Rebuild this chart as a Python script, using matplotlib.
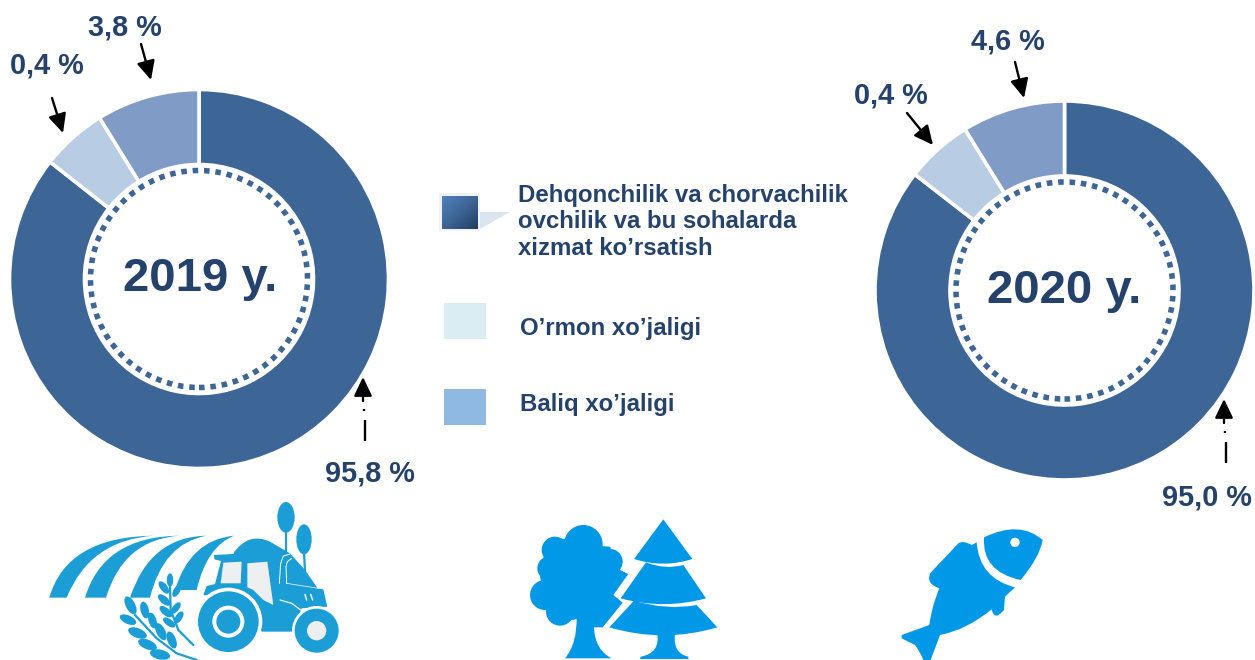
import numpy as np
import matplotlib
matplotlib.use('Agg')
import matplotlib.pyplot as plt
from matplotlib.path import Path
from matplotlib.patches import PathPatch, Polygon, Circle, Ellipse

plt.rcParams['font.family'] = ['Liberation Sans', 'DejaVu Sans']

W, H = 1255, 660

# slice sizes as drawn in the picture (not the same as the printed labels)
slices_2019 = [85.6, 5.6, 8.8]
slices_2020 = [85.5, 5.7, 8.8]
labels_2019 = ['95,8 %', '0,4 %', '3,8 %']
labels_2020 = ['95,0 %', '0,4 %', '4,6 %']
legend_names = ['Dehqonchilik va chorvachilik\novchilik va bu sohalarda\nxizmat ko\u2019rsatish',
                'O\u2019rmon xo\u2019jaligi', 'Baliq xo\u2019jaligi']

c_main = '#3d6595'
c_light = '#b8cce4'
c_mid = '#7f9bc6'
c_text = '#24426b'
c_farm = '#1b9ed6'
c_icon = '#0298e8'
c_grey = '#eeeff1'


def donut(values, cx, cy, r):
    ax = fig.add_axes([(cx-r)/W, 1-(cy+r)/H, 2*r/W, 2*r/H])
    ax.pie(values, colors=[c_main, c_light, c_mid], startangle=90, counterclock=False, radius=1,
           wedgeprops=dict(width=(r-114.5)/r, edgecolor='white', linewidth=2.6))
    ax.add_patch(Circle((0, 0), 108.5/r, fill=False, edgecolor=c_main, linewidth=4, linestyle=(0, (1, 1.05))))
    ax.set_xlim(-1, 1)
    ax.set_ylim(-1, 1)
    return ax


def arrow(a, x0, y0, x1, y1):
    a.annotate('', xy=(x1, y1), xytext=(x0, y0),
               arrowprops=dict(arrowstyle='-|>,head_width=0.55,head_length=1.15', color='black', lw=1.7,
                               shrinkA=0, shrinkB=0))


def broken_arrow(a, x, y0, y1):
    # long dash, dot, then the arrow itself
    a.plot([x+1.5, x+1.5], [y0, y0-21], color='black', lw=1.7, solid_capstyle='butt')
    a.plot([x+0.7, x+0.7], [y0-30, y0-32], color='black', lw=1.7, solid_capstyle='butt')
    arrow(a, x, y0-40, x, y1)


def shape(a, ox, oy, pts, color, z=5):
    # pts: list of (x, y) or (cx, cy, x, y) for a curved segment, in 3x zoom coordinates
    verts, codes = [], []
    for i, p in enumerate(pts):
        if len(p) == 2:
            verts.append((p[0]/3+ox, p[1]/3+oy))
            codes.append(Path.MOVETO if i == 0 else Path.LINETO)
        else:
            verts += [(p[0]/3+ox, p[1]/3+oy), (p[2]/3+ox, p[3]/3+oy)]
            codes += [Path.CURVE3, Path.CURVE3]
    verts.append(verts[0])
    codes.append(Path.CLOSEPOLY)
    a.add_patch(PathPatch(Path(verts, codes), facecolor=color, edgecolor='none', zorder=z))


def disc(a, ox, oy, x, y, r, color, z=5):
    a.add_patch(Circle((x/3+ox, y/3+oy), r/3, facecolor=color, edgecolor='none', zorder=z))


def oval(a, ox, oy, x, y, w, h, ang, color, z=5):
    a.add_patch(Ellipse((x/3+ox, y/3+oy), w/3, h/3, angle=ang, facecolor=color, edgecolor='none', zorder=z))


def thin(a, ox, oy, xs, ys, color, lw=1.0, z=8):
    a.plot(np.array(xs)/3+ox, np.array(ys)/3+oy, color=color, lw=lw, zorder=z, solid_capstyle='round')


def leaf(a, ox, oy, x0, y0, x1, y1):
    mx, my = (x0+x1)/2, (y0+y1)/2
    ln = np.hypot(x1-x0, y1-y0)
    # screen y goes down, the axes are flipped, so the angle follows the data directly
    oval(a, ox, oy, mx, my, ln, ln*0.48, np.degrees(np.arctan2(y1-y0, x1-x0)), c_farm)


def tractor(a):
    # field stripes
    ox, oy = 0, 490
    shape(a, ox, oy, [(148, 323), (200, 140, 462, 137), (270, 150, 200, 323)], c_farm)
    shape(a, ox, oy, [(255, 323), (310, 140, 537, 137), (370, 150, 318, 323)], c_farm)
    shape(a, ox, oy, [(390, 323), (450, 140, 620, 137), (490, 160, 450, 323)], c_farm)
    shape(a, ox, oy, [(525, 300), (570, 150, 702, 137), (620, 170, 590, 300)], c_farm)
    # wheat
    thin(a, ox, oy, [405, 470, 530, 590], [375, 445, 490, 510], c_farm, 1.6, 5)
    thin(a, ox, oy, [510, 512, 535, 580], [290, 360, 420, 465], c_farm, 1.6, 5)
    for x0, y0, x1, y1 in [(378, 320, 405, 372), (428, 335, 440, 385), (360, 378, 408, 400), (450, 368, 465, 415),
                           (385, 418, 440, 440), (470, 400, 495, 450), (415, 452, 470, 475), (505, 425, 525, 475),
                           (450, 487, 510, 500),
                           (510, 250, 510, 290), (478, 275, 505, 310), (540, 285, 520, 320), (475, 315, 510, 345),
                           (540, 338, 515, 370), (480, 350, 515, 380), (548, 365, 525, 400), (490, 385, 525, 410)]:
        leaf(a, ox, oy, x0, y0, x1, y1)

    ox, oy = 190, 500
    # trees and hill
    oval(a, ox, oy, 288, 52, 52, 92, 0, c_farm)
    oval(a, ox, oy, 342, 118, 46, 90, 0, c_farm)
    thin(a, ox, oy, [288, 288], [90, 165], c_farm, 1.6, 5)
    thin(a, ox, oy, [342, 345], [155, 215], c_farm, 1.6, 5)
    shape(a, ox, oy, [(130, 160), (175, 95, 240, 125), (300, 160), (345, 210), (385, 268), (260, 268)], c_farm)
    # body
    shape(a, ox, oy, [(40, 285), (50, 258), (75, 252), (93, 183), (73, 178), (72, 165), (245, 156), (265, 240),
                      (275, 250), (400, 268), (412, 320), (335, 325), (310, 395), (215, 395), (150, 300)], c_farm, 6)
    shape(a, ox, oy, [(100, 188), (155, 185), (152, 250), (92, 250)], c_grey, 7)
    shape(a, ox, oy, [(172, 190), (232, 185), (250, 315), (220, 300), (190, 270), (172, 262)], c_grey, 7)
    thin(a, ox, oy, [268, 272, 280, 300], [250, 190, 168, 162], 'white', 0.7)
    thin(a, ox, oy, [290, 288, 292, 305], [250, 200, 185, 175], 'white', 0.7)
    thin(a, ox, oy, [290, 385], [250, 265], 'white', 0.5)
    thin(a, ox, oy, [270, 305, 335], [300, 310, 332], 'white', 0.9)
    thin(a, ox, oy, [345, 350], [283, 300], 'white', 1.0)
    thin(a, ox, oy, [362, 368], [283, 300], 'white', 1.0)
    # wheels
    disc(a, ox, oy, 115, 365, 102, 'white', 8)
    disc(a, ox, oy, 115, 365, 91, c_farm, 9)
    disc(a, ox, oy, 115, 365, 48, 'white', 10)
    disc(a, ox, oy, 115, 365, 36, c_farm, 11)
    disc(a, ox, oy, 380, 392, 74, 'white', 8)
    disc(a, ox, oy, 380, 392, 66, c_farm, 9)
    disc(a, ox, oy, 380, 392, 29, c_grey, 10)


def forest(a):
    ox, oy = 520, 510
    for x, y, r in [(190, 103, 58), (105, 120, 40), (88, 175, 36), (75, 255, 45), (120, 305, 42),
                    (270, 155, 38), (170, 190, 110), (150, 260, 70)]:
        disc(a, ox, oy, x, y, r, c_icon)
    shape(a, ox, oy, [(170, 320), (172, 400, 135, 445), (275, 445), (225, 420, 222, 352), (248, 352), (308, 278),
                      (280, 255), (325, 192), (300, 180), (270, 110), (120, 100), (70, 200), (100, 300)], c_icon)
    # pine tiers
    shape(a, ox, oy, [(430, 28), (517, 147), (430, 175, 342, 147)], c_icon)
    shape(a, ox, oy, [(378, 157), (435, 180, 490, 165), (558, 265), (430, 300, 302, 265)], c_icon)
    shape(a, ox, oy, [(342, 272), (440, 302, 530, 285), (592, 352), (430, 400, 268, 352)], c_icon)
    shape(a, ox, oy, [(412, 372), (420, 430, 362, 440), (360, 447), (505, 447), (505, 440),
                      (458, 430, 465, 372)], c_icon)


def fish(a):
    ox, oy = 890, 510
    shape(a, ox, oy, [(282, 82), (390, 30, 458, 90), (450, 140, 392, 210), (275, 185, 282, 82)], c_icon)
    disc(a, ox, oy, 375, 97, 14, 'white', 6)
    shape(a, ox, oy, [(260, 97), (245, 105), (218, 90, 205, 100), (122, 188), (105, 220, 148, 235),
                      (125, 290, 118, 345), (35, 375), (35, 385), (75, 405), (90, 425, 100, 450),
                      (122, 450), (150, 375), (230, 360, 305, 298), (312, 335, 342, 300), (345, 260),
                      (375, 232), (268, 205, 260, 97)], c_icon)


fig = plt.figure(figsize=(W/100, H/100), dpi=100, facecolor='white')
donut(slices_2019, 199, 279, 189.5)
donut(slices_2020, 1064.5, 290.5, 189.5)

a = fig.add_axes([0, 0, 1, 1], facecolor='none')
a.axis('off')

# year labels
a.text(200, 279, '2019 y.', fontsize=34, fontweight='bold', color=c_text, ha='center', va='center')
a.text(1064, 291, '2020 y.', fontsize=34, fontweight='bold', color=c_text, ha='center', va='center')

# value labels
for (x, y), s in zip([(370, 474), (47, 65), (125, 28)], labels_2019):
    a.text(x, y, s, fontsize=20.8, fontweight='bold', color=c_text, ha='center', va='center')
for (x, y), s in zip([(1207, 497), (891, 95), (1008, 41)], labels_2020):
    a.text(x, y, s, fontsize=20.8, fontweight='bold', color=c_text, ha='center', va='center')

# arrows
arrow(a, 141, 44, 151, 80)
arrow(a, 52, 98, 63, 133)
broken_arrow(a, 363, 441, 377)
arrow(a, 1015, 62, 1024, 98)
arrow(a, 907, 113, 933, 145)
broken_arrow(a, 1224, 463, 399)

# legend swatches
a.add_patch(Polygon([(480, 212), (510, 212), (480, 229)], facecolor='#dbe5f1', edgecolor='none'))
a.add_patch(plt.Rectangle((439, 193), 41, 38, facecolor='#f0f2f5', edgecolor='none'))
grad = np.add.outer(np.linspace(0, 1, 40), np.linspace(0, 1, 40))/2
cmap = matplotlib.colors.LinearSegmentedColormap.from_list('sw', ['#4f81bd', '#3d6595', '#1f3d63'])
a.imshow(grad, extent=(442, 478, 229, 196), cmap=cmap, aspect='auto', zorder=3)
a.add_patch(plt.Rectangle((444, 303), 42, 36, facecolor='#daedf3', edgecolor='none'))
a.add_patch(plt.Rectangle((444, 389), 42, 36, facecolor='#8fb9e2', edgecolor='none'))

a.text(518, 222, legend_names[0], fontsize=17.3, fontweight='bold', color=c_text, ha='left', va='center',
       linespacing=1.22)
a.text(520, 329, legend_names[1], fontsize=17.3, fontweight='bold', color=c_text, ha='left', va='center')
a.text(520, 404, legend_names[2], fontsize=17.3, fontweight='bold', color=c_text, ha='left', va='center')

tractor(a)
forest(a)
fish(a)

a.set_xlim(0, W)
a.set_ylim(H, 0)

fig.savefig('out.png', dpi=100, facecolor='white')
